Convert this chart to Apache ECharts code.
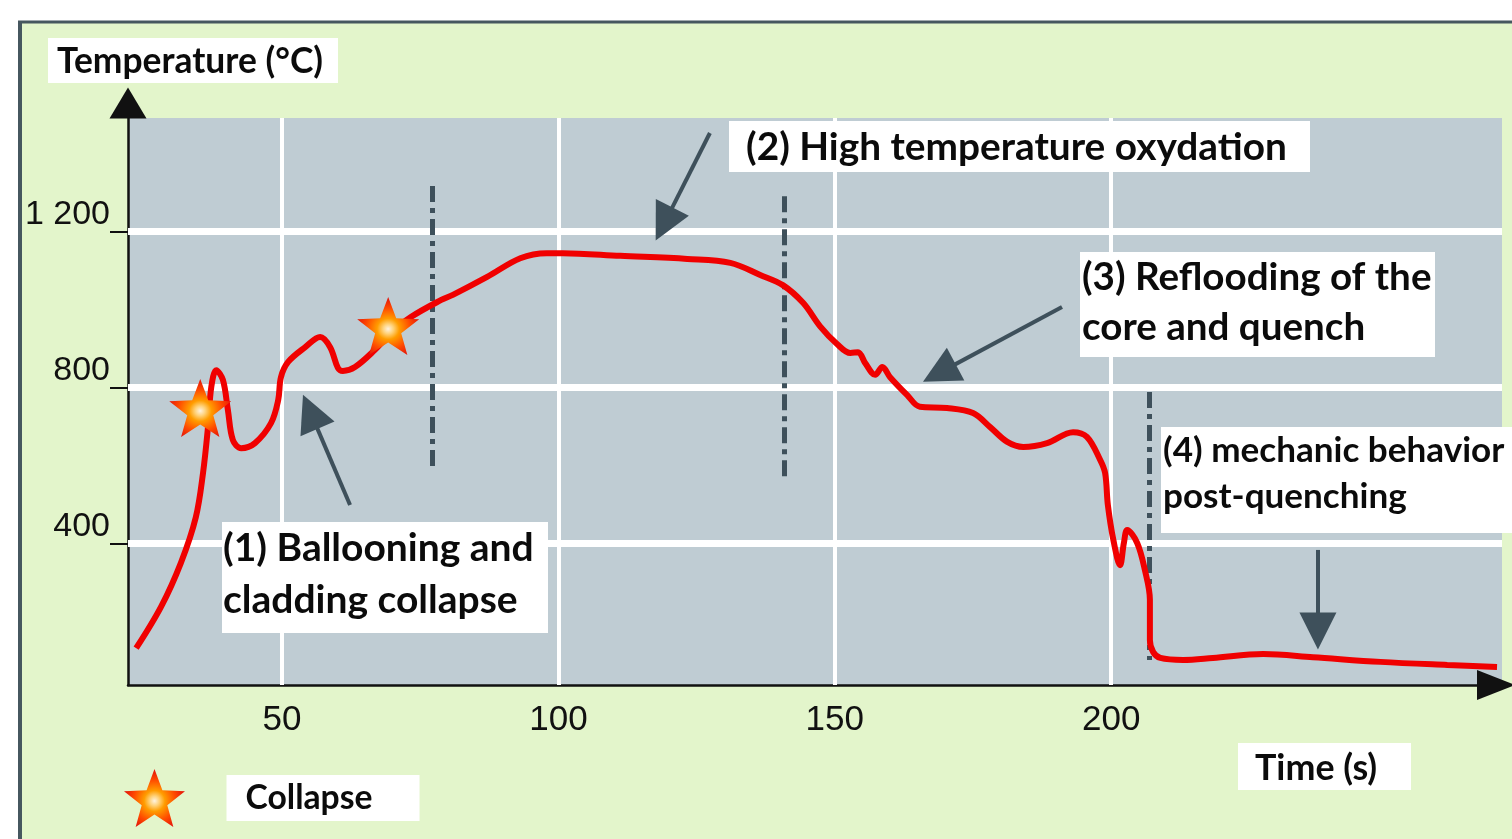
<!DOCTYPE html>
<html>
<head>
<meta charset="utf-8">
<script src="https://cdn.jsdelivr.net/npm/echarts@6.0.0/dist/echarts.min.js"></script>
<style>
  html, body { margin: 0; padding: 0; background: #ffffff; }
  #chart { width: 1512px; height: 839px; }
</style>
</head>
<body>
<div id="chart"></div>
<script>
// ---- data ----
const timeS = [23.6, 28.1, 31.7, 34.4, 35.7, 36.6, 37.2, 38.1, 39.3, 40.2, 41.1, 42.6, 45.1, 48.0, 49.3, 49.8, 51.1, 54.2, 56.9, 58.7, 60.1, 61.0, 63.2, 66.8, 69.7, 73.3, 78.8, 80.9, 87.1, 93.1, 97.9, 100.8, 111.2, 123.3, 131.1, 136.5, 140.6, 144.3, 147.3, 150.4, 152.8, 154.2, 155.5, 157.3, 158.6, 160.0, 163.1, 165.4, 170.3, 175.0, 178.1, 181.2, 184.1, 188.4, 193.1, 195.6, 198.0, 198.9, 199.4, 200.4, 201.6, 202.3, 202.9, 204.7, 206.1, 207.0, 207.0, 207.6, 208.9, 213.0, 218.4, 227.5, 236.5, 248.7, 260.8, 269.8];
const temperature = [131, 237, 350, 467, 580, 698, 801, 844, 819, 742, 665, 644, 657, 708, 767, 826, 865, 903, 929, 903, 850, 842, 852, 896, 939, 980, 1024, 1037, 1083, 1131, 1144, 1144, 1137, 1129, 1119, 1088, 1062, 1016, 957, 911, 888, 890, 862, 832, 852, 826, 780, 750, 747, 734, 698, 660, 647, 657, 685, 673, 614, 580, 498, 408, 344, 401, 434, 401, 331, 255, 152, 121, 106, 101, 106, 116, 108, 96, 88, 83];

const collapseTime = [35.2, 69.2];
const collapseTemp = [747, 957];

const xTicks = [50, 100, 150, 200];
const yTicks = [400, 800, 1200];

// phase separators (dash-dot): time, top temperature, bottom temperature
const phaseTime = [77.1, 140.8, 206.9];
const phaseTop = [1316, 1290, 788];
const phaseBottom = [588, 557, 101];

// annotation arrows: start (time, temp) -> end (time, temp)
const arrowStartTime = [62.3, 127.4, 191.1, 237.4];
const arrowStartTemp = [498, 1452, 1006, 383];
const arrowEndTime = [55.1, 119.1, 168.9, 237.4];
const arrowEndTemp = [737, 1219, 837, 175];

const yName = 'Temperature (°C)';
const xName = 'Time (s)';
const starName = 'Collapse';
const phaseLabels = [
  '(1) Ballooning and\ncladding collapse',
  '(2) High temperature oxydation',
  '(3) Reflooding of the\ncore and quench',
  '(4) mechanic behavior\npost-quenching'
];

// ---- styling ----
const STAR = 'path://M50,0L62.34,33.01L97.55,34.55L69.97,56.49L79.39,90.45L50,71L20.61,90.45L30.03,56.49L2.45,34.55L37.66,33.01Z';
const starFill = {
  type: 'radial', x: 0.5, y: 0.55, r: 0.6,
  colorStops: [
    { offset: 0, color: '#fff3e0' },
    { offset: 0.14, color: '#ffd27a' },
    { offset: 0.3, color: '#ff9d00' },
    { offset: 0.6, color: '#ff4a00' },
    { offset: 1, color: '#d8000f' }
  ]
};
const LABEL_FAMILY = 'Lato, "Open Sans", sans-serif';
const TICK_FONT = '"Liberation Sans", Arial, sans-serif';
const DARK = '#3e505b';

// font size so that the widest line reaches the wanted width
const measureCtx = document.createElement('canvas').getContext('2d');
function fitSize(text, width) {
  measureCtx.font = 'bold 100px ' + LABEL_FAMILY;
  let w = 0;
  text.split('\n').forEach(l => { w = Math.max(w, measureCtx.measureText(l).width); });
  return Math.round(100 * width / w * 10) / 10;
}

function boxText(rx, ry, rw, rh, tx, ty, text, textWidth, lh) {
  const size = fitSize(text, textWidth);
  return {
    type: 'group', z: 100,
    children: [
      { type: 'rect', z: 100, shape: { x: rx, y: ry, width: rw, height: rh }, style: { fill: '#ffffff' } },
      { type: 'text', z: 101, style: {
          text: text, x: tx, y: ty,
          font: 'bold ' + size + 'px ' + LABEL_FAMILY,
          fill: '#0b0b0b',
          align: 'left', textAlign: 'left',
          verticalAlign: 'middle', textVerticalAlign: 'middle',
          lineHeight: lh || size
      } }
    ]
  };
}

const chart = echarts.init(document.getElementById('chart'), null, { renderer: 'canvas' });

const option = {
  animation: false,
  backgroundColor: '#ffffff',
  grid: {
    left: 128, right: 10, top: 118, bottom: 154,
    show: true, backgroundColor: '#bfccd3', borderWidth: 0
  },
  legend: {
    left: 119, top: 764,
    itemWidth: 62, itemHeight: 58,
    selectedMode: false,
    data: [{ name: starName, icon: STAR, itemStyle: { color: starFill } }],
    formatter: function (n) { return '{g| }{b|' + n + '}'; },
    textStyle: {
      rich: {
        g: { width: 36 },
        b: {
          backgroundColor: '#ffffff', color: '#0b0b0b',
          fontFamily: LABEL_FAMILY, fontWeight: 'bold', fontSize: fitSize(starName, 127),
          lineHeight: 34, padding: [6, 47, 6, 19]
        }
      }
    }
  },
  xAxis: {
    type: 'value', min: 22.13, max: 270.7,
    axisLine: {
      lineStyle: { color: '#111', width: 2.5 },
      symbol: ['none', 'triangle'], symbolSize: [30, 38], symbolOffset: [0, -6]
    },
    axisTick: { show: false },
    splitLine: { show: false },
    axisLabel: {
      customValues: xTicks,
      fontFamily: TICK_FONT, fontSize: 35, color: '#111', margin: 18
    }
  },
  yAxis: {
    type: 'value', min: 36.7, max: 1490.5,
    axisLine: {
      lineStyle: { color: '#111', width: 2.5 },
      symbol: ['none', 'triangle'], symbolSize: [37, 31], symbolOffset: [0, 15]
    },
    axisTick: { customValues: yTicks, length: 18, lineStyle: { color: '#111', width: 2 } },
    splitLine: { show: false },
    axisLabel: {
      customValues: yTicks,
      formatter: function (v) { return String(v).replace(/\B(?=(\d{3})+(?!\d))/g, ' '); },
      fontFamily: TICK_FONT, fontSize: 34, color: '#111', margin: 18,
      verticalAlign: 'bottom'
    }
  },
  series: [
    {
      // white grid lines
      type: 'scatter', data: [], z: 1, silent: true,
      markLine: {
        silent: true, symbol: 'none', label: { show: false },
        lineStyle: { color: '#ffffff', type: 'solid' },
        data: yTicks.map(v => ({ yAxis: v, lineStyle: { width: 7, color: '#ffffff', type: 'solid' } }))
          .concat(xTicks.map(v => ({ xAxis: v, lineStyle: { width: 4, color: '#ffffff', type: 'solid' } })))
      }
    },
    {
      // phase separators
      type: 'scatter', data: [], z: 2, silent: true,
      markLine: {
        silent: true, symbol: 'none', label: { show: false },
        lineStyle: { color: DARK, width: 5, type: [16, 6, 5, 6] },
        data: phaseTime.map((t, i) => [{ coord: [t, phaseTop[i]] }, { coord: [t, phaseBottom[i]] }])
      }
    },
    {
      // annotation arrows
      type: 'scatter', data: [], z: 3, silent: true,
      markLine: {
        silent: true, symbol: ['none', 'triangle'], symbolSize: 37, label: { show: false },
        lineStyle: { color: DARK, width: 4, type: 'solid' },
        data: arrowStartTime.map((t, i) => [
          { coord: [t, arrowStartTemp[i]] },
          { coord: [arrowEndTime[i], arrowEndTemp[i]] }
        ])
      }
    },
    {
      name: 'Temperature',
      type: 'line', z: 5,
      data: timeS.map((t, i) => [t, temperature[i]]),
      showSymbol: false, smooth: 0.35,
      lineStyle: { color: '#f00000', width: 6 },
      itemStyle: { color: '#f00000' }
    },
    {
      name: starName,
      type: 'scatter', z: 6,
      symbol: STAR, symbolSize: [62, 58],
      data: collapseTime.map((t, i) => [t, collapseTemp[i]]),
      itemStyle: { color: starFill, opacity: 1 }
    }
  ],
  graphic: [
    { type: 'rect', z: -10, shape: { x: 20, y: 22, width: 1500, height: 830 }, style: { fill: '#e3f5cb' } },
    { type: 'line', z: -9, shape: { x1: 20, y1: 21, x2: 20, y2: 839 }, style: { stroke: '#46575f', lineWidth: 4 } },
    { type: 'line', z: -9, shape: { x1: 18, y1: 22, x2: 1512, y2: 22 }, style: { stroke: '#46575f', lineWidth: 3 } },
    boxText(48, 38, 290, 45, 57, 62, yName, 266),
    boxText(1238, 743, 173, 47, 1255, 768, xName, 122),
    boxText(222, 522, 326, 111, 223, 574, phaseLabels[0], 311, 52),
    boxText(729, 121, 581, 51, 746, 147, phaseLabels[1], 541),
    boxText(1080, 252, 355, 105, 1082, 303, phaseLabels[2], 350, 50),
    boxText(1161, 427, 360, 106, 1163, 474, phaseLabels[3], 342, 46)
  ]
};

chart.setOption(option);
</script>
</body>
</html>
